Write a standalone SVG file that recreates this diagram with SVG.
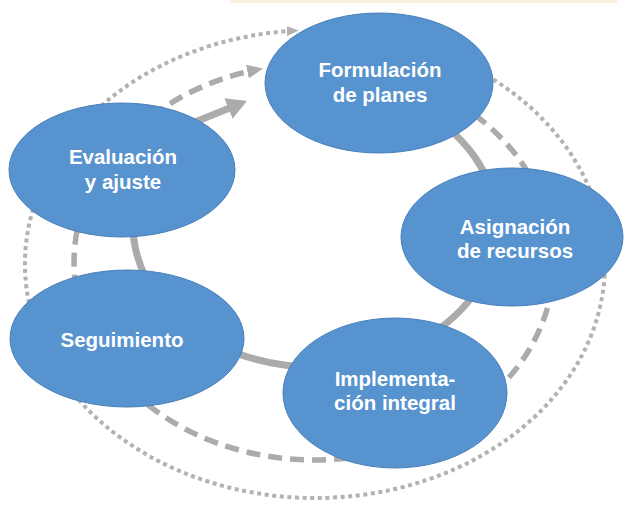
<svg xmlns="http://www.w3.org/2000/svg" width="624" height="510" viewBox="0 0 624 510">
  <defs>
    <style>
      .node { fill: #5793cf; stroke: #4a80b8; stroke-width: 1; }
      .label { font-family: "Liberation Sans", Arial, sans-serif; font-weight: bold; font-size: 20.5px; fill: #ffffff; text-anchor: middle; }
      .solid { fill: none; stroke: #ababab; stroke-width: 7; }
      .dashed { fill: none; stroke: #ababab; stroke-width: 5.5; stroke-dasharray: 14 8; }
      .dotted { fill: none; stroke: #b2b2b2; stroke-width: 4; stroke-dasharray: 4 3.6; }
    </style>
    <marker id="headSolid" markerUnits="userSpaceOnUse" markerWidth="20" markerHeight="22" refX="8" refY="11" orient="auto">
      <path d="M0,0 L20,11 L0,22 z" fill="#ababab"/>
    </marker>
    <marker id="headDashed" markerUnits="userSpaceOnUse" markerWidth="16" markerHeight="14" refX="10" refY="7" orient="auto">
      <path d="M0,0 L16,7 L0,14 z" fill="#ababab"/>
    </marker>
    <marker id="headDotted" markerUnits="userSpaceOnUse" markerWidth="12" markerHeight="10" refX="8" refY="5" orient="auto">
      <path d="M0,0 L12,5 L0,10 z" fill="#b2b2b2"/>
    </marker>
  </defs>
  <rect x="0" y="0" width="624" height="510" fill="#ffffff"/>
  <rect x="230" y="0" width="387" height="3" fill="#fbefe2"/>

  <g id="connectors">
    <path class="dotted" d="M 460 61.4 A 290 234 0 1 1 294.8 30.6" marker-end="url(#headDotted)"/>
    <path class="dashed" d="M 396.1 75.9 A 240 198 0 1 1 257.2 69.6" marker-end="url(#headDashed)"/>
    <path class="solid" d="M 346.6 85.2 A 182 142 0 1 1 186.3 124.6"/>
    <path class="solid" d="M 190 124 L 235.9 105.5" marker-end="url(#headSolid)"/>
  </g>

  <g id="node-formulacion">
    <ellipse class="node" cx="379" cy="83" rx="114" ry="70"/>
    <text class="label" x="380" y="77">Formulación</text>
    <text class="label" x="380" y="101.5">de planes</text>
  </g>
  <g id="node-asignacion">
    <ellipse class="node" cx="512" cy="237" rx="111" ry="69"/>
    <text class="label" x="515" y="234">Asignación</text>
    <text class="label" x="515" y="258">de recursos</text>
  </g>
  <g id="node-implementacion">
    <ellipse class="node" cx="395" cy="393" rx="112" ry="75"/>
    <text class="label" x="395" y="386">Implementa-</text>
    <text class="label" x="395" y="410">ción integral</text>
  </g>
  <g id="node-seguimiento">
    <ellipse class="node" cx="127" cy="338.5" rx="117" ry="68.5"/>
    <text class="label" x="122" y="347">Seguimiento</text>
  </g>
  <g id="node-evaluacion">
    <ellipse class="node" cx="122" cy="170" rx="113" ry="67"/>
    <text class="label" x="123" y="164">Evaluación</text>
    <text class="label" x="123" y="189">y ajuste</text>
  </g>
</svg>
